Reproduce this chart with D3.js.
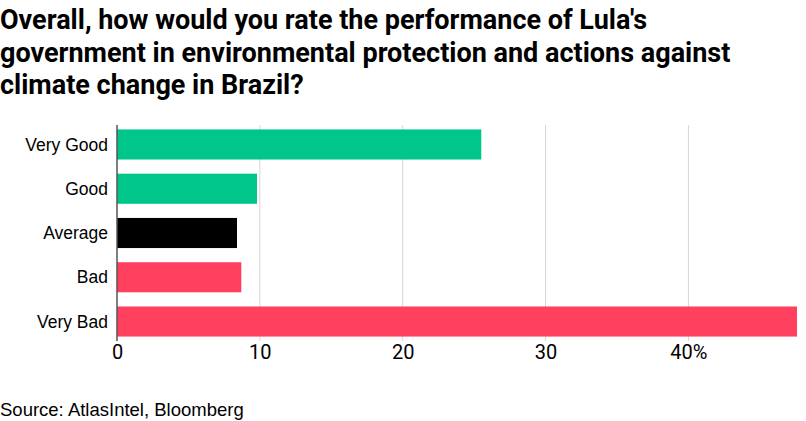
<!DOCTYPE html>
<html>
<head>
<meta charset="utf-8">
<script src="https://cdn.jsdelivr.net/npm/d3@7"></script>
<style>
  body { margin: 0; background: #fff; }
  svg { display: block; }
</style>
</head>
<body>
<svg id="chart"></svg>
<script>
let width = 806;
let height = 421;
let margin = {top: 125, right: 9, bottom: 80, left: 117};

let categories = ["Very Good", "Good", "Average", "Bad", "Very Bad"];
let values = [25.5, 9.8, 8.4, 8.7, 47.6];
let colors = ["#00c68b", "#00c68b", "#000000", "#ff405f", "#ff405f"];
let ticks = [0, 10, 20, 30, 40];
let tickLabels = ["0", "10", "20", "30", "40%"];

let titleLines = [
  "Overall, how would you rate the performance of Lula's",
  "government in environmental protection and actions against",
  "climate change in Brazil?"
];

let svg = d3.select("#chart")
  .attr("width", width)
  .attr("height", height);

// title
svg.append("text")
  .attr("x", 0)
  .attr("y", 29)
  .style("font-family", "Roboto")
  .style("font-weight", 700)
  .style("font-size", "27px")
  .style("letter-spacing", "0px")
  .attr("fill", "#000")
  .selectAll("tspan")
  .data(titleLines)
  .enter().append("tspan")
  .attr("x", 0)
  .attr("dy", (d, i) => i == 0 ? 0 : 32.5)
  .text(d => d);

let x = d3.scaleLinear()
  .domain([0, 47.6])
  .range([margin.left, width - margin.right]);

let y = d3.scaleBand()
  .domain(categories)
  .range([margin.top, height - margin.bottom])
  .paddingInner(0.32)
  .paddingOuter(0.1);

// gridlines
svg.append("g")
  .selectAll("line")
  .data(ticks.slice(1))
  .enter().append("line")
  .attr("x1", d => x(d))
  .attr("x2", d => x(d))
  .attr("y1", margin.top)
  .attr("y2", height - margin.bottom)
  .attr("stroke", "#d6d6d6")
  .attr("stroke-width", 1);

// bars
svg.append("g")
  .selectAll("rect")
  .data(categories)
  .enter().append("rect")
  .attr("x", x(0))
  .attr("y", d => y(d))
  .attr("width", (d, i) => x(values[i]) - x(0))
  .attr("height", y.bandwidth())
  .attr("fill", (d, i) => colors[i]);

// y axis line
svg.append("line")
  .attr("x1", x(0))
  .attr("x2", x(0))
  .attr("y1", margin.top)
  .attr("y2", height - margin.bottom)
  .attr("stroke", "#555")
  .attr("stroke-width", 1.5);

// category labels
svg.append("g")
  .selectAll("text")
  .data(categories)
  .enter().append("text")
  .attr("x", margin.left - 9)
  .attr("y", d => y(d) + y.bandwidth() / 2)
  .attr("dy", "0.35em")
  .attr("text-anchor", "end")
  .style("font-family", "Liberation Sans, Arial, sans-serif")
  .style("font-size", "17.5px")
  .attr("fill", "#000")
  .text(d => d);

// x axis
let xAxis = d3.axisBottom(x)
  .tickValues(ticks)
  .tickFormat((d, i) => tickLabels[i])
  .tickSize(0)
  .tickPadding(4);

let gx = svg.append("g")
  .attr("transform", `translate(0, ${height - margin.bottom})`)
  .call(xAxis);
gx.select(".domain").remove();
gx.selectAll("text")
  .style("font-family", "Roboto")
  .style("font-size", "20px")
  .attr("fill", "#000");

// source
svg.append("text")
  .attr("x", 0)
  .attr("y", 416)
  .style("font-family", "Liberation Sans, Arial, sans-serif")
  .style("font-size", "18.5px")
  .attr("fill", "#000")
  .text("Source: AtlasIntel, Bloomberg");
</script>
</body>
</html>
